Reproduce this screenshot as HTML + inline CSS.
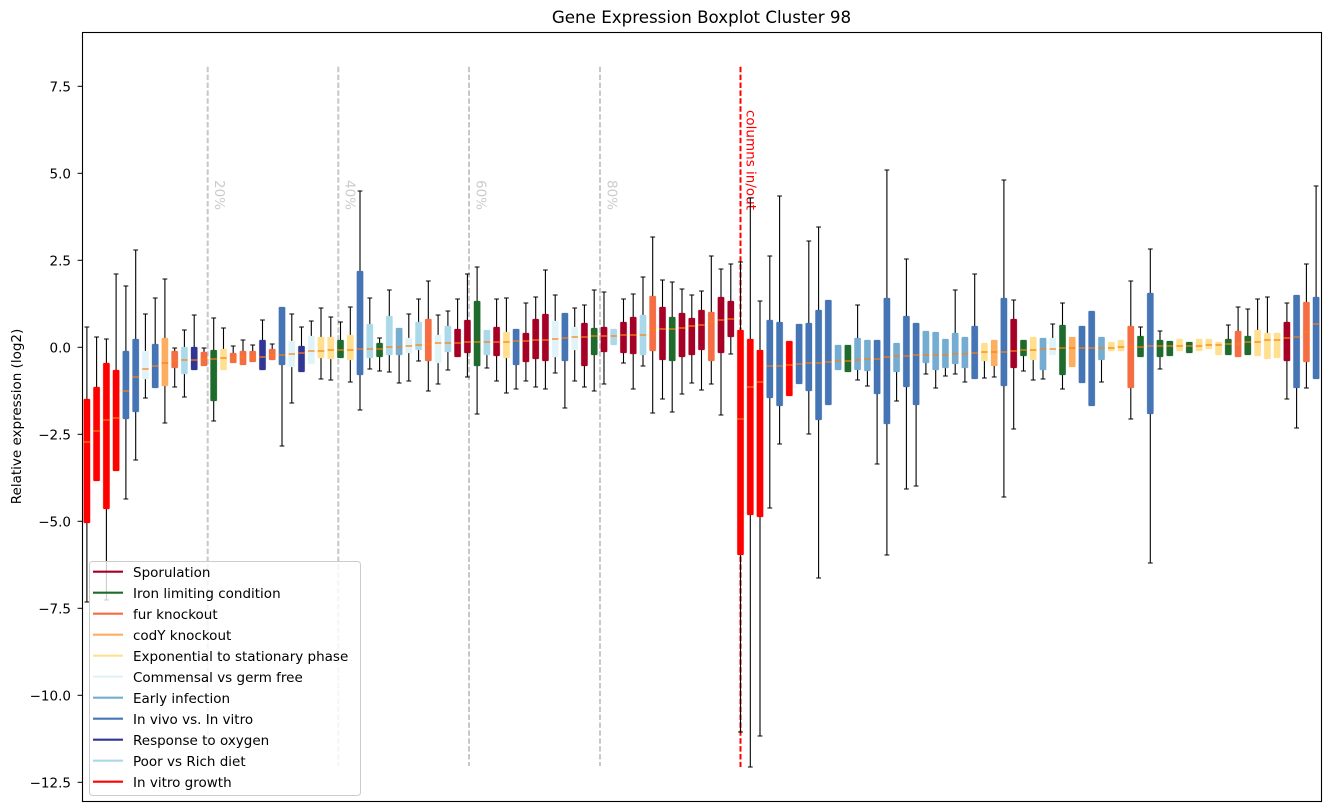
<!DOCTYPE html>
<html>
<head>
<meta charset="utf-8">
<style>
html,body{margin:0;padding:0;background:#fff;}
svg{display:block;font-family:"DejaVu Sans","Liberation Sans",sans-serif;}
.R{fill:#ff0000}.B{fill:#4575b4}.C{fill:#e0f3f8}.O{fill:#fdae61}.F{fill:#f46d43}
.P{fill:#abd9e9}.N{fill:#313695}.G{fill:#1f6b2d}.Y{fill:#fee090}.D{fill:#a50026}.E{fill:#74add1}
rect.bx{stroke-width:0.8;stroke-opacity:0.35}
</style>
</head>
<body>
<svg width="1331" height="812" viewBox="0 0 1331 812" xmlns="http://www.w3.org/2000/svg">
<rect x="0" y="0" width="1331" height="812" fill="#fff"/>

<!-- title -->
<text x="701.5" y="23" font-size="16.7" text-anchor="middle" fill="#000">Gene Expression Boxplot Cluster 98</text>

<!-- y label -->
<text transform="translate(21,416.5) rotate(-90)" font-size="13.5" text-anchor="middle" fill="#000">Relative expression (log2)</text>

<!-- y ticks -->
<g stroke="#000" stroke-width="1">
<line x1="77.6" x2="82.5" y1="86.3" y2="86.3"/>
<line x1="77.6" x2="82.5" y1="173.3" y2="173.3"/>
<line x1="77.6" x2="82.5" y1="260.3" y2="260.3"/>
<line x1="77.6" x2="82.5" y1="347.3" y2="347.3"/>
<line x1="77.6" x2="82.5" y1="434.3" y2="434.3"/>
<line x1="77.6" x2="82.5" y1="521.3" y2="521.3"/>
<line x1="77.6" x2="82.5" y1="608.3" y2="608.3"/>
<line x1="77.6" x2="82.5" y1="695.3" y2="695.3"/>
<line x1="77.6" x2="82.5" y1="782.3" y2="782.3"/>
</g>
<g font-size="13.5" text-anchor="end" fill="#000">
<text x="71" y="91.3">7.5</text>
<text x="71" y="178.3">5.0</text>
<text x="71" y="265.3">2.5</text>
<text x="71" y="352.3">0.0</text>
<text x="71" y="439.3">−2.5</text>
<text x="71" y="526.3">−5.0</text>
<text x="71" y="613.3">−7.5</text>
<text x="71" y="700.3">−10.0</text>
<text x="71" y="787.3">−12.5</text>
</g>

<!-- percentage lines -->
<g stroke="#c8c8c8" stroke-width="2" stroke-dasharray="5.5 2.4" fill="none">
<line x1="207.7" x2="207.7" y1="66.7" y2="766"/>
<line x1="338.3" x2="338.3" y1="66.7" y2="766"/>
<line x1="469" x2="469" y1="66.7" y2="766"/>
<line x1="600" x2="600" y1="66.7" y2="766"/>
</g>
<line x1="740.5" x2="740.5" y1="66.7" y2="767" stroke="#ff0000" stroke-width="2" stroke-dasharray="5.5 2.4"/>
<g font-size="13.5" fill="#cccccc">
<text transform="translate(215,180) rotate(90)">20%</text>
<text transform="translate(345.6,180) rotate(90)">40%</text>
<text transform="translate(476.3,180) rotate(90)">60%</text>
<text transform="translate(607.3,180) rotate(90)">80%</text>
</g>
<text transform="translate(746.5,110) rotate(90)" font-size="13.5" fill="#ff0000">columns in/out</text>

<!-- whiskers & caps -->
<path fill="none" stroke="#000" stroke-width="1.1" d="
M86.9 399V327M84.5 327H89.3M86.9 523V602M84.5 602H89.3
M96.6 387V337M94.2 337H99
M106.4 363V339M104 339H108.8M106.4 509V600M104 600H108.8
M116.1 370V274M113.7 274H118.5
M125.9 351V286M123.5 286H128.3M125.9 419V499M123.5 499H128.3
M135.7 339V250M133.3 250H138.1M135.7 412V460M133.3 460H138.1
M145.4 351V314M143 314H147.8M145.4 379V398M143 398H147.8
M155.2 344V298M152.8 298H157.6
M164.9 338V279M162.5 279H167.3M164.9 386V423M162.5 423H167.3
M174.7 351V348M172.3 348H177.1M174.7 368V387M172.3 387H177.1
M184.4 347V330M182 330H186.8M184.4 374V397M182 397H186.8
M194.2 347V315M191.8 315H196.6
M204 352V348M201.6 348H206.4
M213.7 350V318M211.3 318H216.1M213.7 401V421M211.3 421H216.1
M223.5 349V328M221.1 328H225.9
M233.2 353V346M230.8 346H235.6
M243 351V340M240.6 340H245.4
M252.7 351V345M250.3 345H255.1
M262.5 340V320M260.1 320H264.9
M272.2 349V344M269.8 344H274.6
M282 365V446M279.6 446H284.4
M291.8 341V314M289.4 314H294.2M291.8 367V403M289.4 403H294.2
M301.5 346V327M299.1 327H303.9
M311.3 336V321M308.9 321H313.7
M321 337V308M318.6 308H323.4M321 358V379M318.6 379H323.4
M330.8 337V317M328.4 317H333.2M330.8 359V380M328.4 380H333.2
M340.5 340V322M338.1 322H342.9
M350.3 335V307M347.9 307H352.7M350.3 360V382M347.9 382H352.7
M360 271V191M357.6 191H362.4M360 375V410M357.6 410H362.4
M369.8 324V298M367.4 298H372.2M369.8 358V369M367.4 369H372.2
M379.6 343V338M377.2 338H382M379.6 357V371M377.2 371H382
M389.3 316V290M386.9 290H391.7M389.3 355V372M386.9 372H391.7
M399.1 355V383M396.7 383H401.5
M408.8 338V314M406.4 314H411.2M408.8 353V381M406.4 381H411.2
M418.6 322V299M416.2 299H421M418.6 350V361M416.2 361H421
M428.3 319V281M425.9 281H430.7M428.3 361V391M425.9 391H430.7
M438.1 335V315M435.7 315H440.5M438.1 363V384M435.7 384H440.5
M447.9 326V311M445.5 311H450.3M447.9 352V370M445.5 370H450.3
M457.6 329V299M455.2 299H460
M467.4 320V274M465 274H469.8M467.4 353V377M465 377H469.8
M477.1 301V267M474.7 267H479.5M477.1 366V414M474.7 414H479.5
M486.9 355V368M484.5 368H489.3
M496.6 327V299M494.2 299H499M496.6 356V381M494.2 381H499
M506.4 332V298M504 298H508.8M506.4 358V393M504 393H508.8
M516.1 365V389M513.7 389H518.5
M525.9 333V303M523.5 303H528.3M525.9 362V381M523.5 381H528.3
M535.7 319V297M533.3 297H538.1M535.7 359V387M533.3 387H538.1
M545.4 314V270M543 270H547.8M545.4 361V389M543 389H547.8
M555.2 321V295M552.8 295H557.6M555.2 357V373M552.8 373H557.6
M564.9 361V408M562.5 408H567.3
M574.7 327V308M572.3 308H577.1M574.7 350V381M572.3 381H577.1
M584.4 323V305M582 305H586.8M584.4 366V387M582 387H586.8
M594.2 328V290M591.8 290H596.6M594.2 355V391M591.8 391H596.6
M604 327V292M601.6 292H606.4M604 352V384M601.6 384H606.4
M623.5 322V299M621.1 299H625.9M623.5 353V363M621.1 363H625.9
M633.2 317V294M630.8 294H635.6M633.2 354V389M630.8 389H635.6
M643 315V277M640.6 277H645.4M643 355V366M640.6 366H645.4
M652.7 296V237M650.3 237H655.1M652.7 351V413M650.3 413H655.1
M662.5 307V280M660.1 280H664.9M662.5 360V399M660.1 399H664.9
M672.2 317V282M669.8 282H674.6M672.2 361V412M669.8 412H674.6
M682 313V289M679.6 289H684.4M682 357V394M679.6 394H684.4
M691.8 318V295M689.4 295H694.2M691.8 355V383M689.4 383H694.2
M701.5 310V291M699.1 291H703.9M701.5 350V390M699.1 390H703.9
M711.3 312V256M708.9 256H713.7M711.3 361V384M708.9 384H713.7
M721 297V269M718.6 269H723.4M721 353V415M718.6 415H723.4
M730.8 301V264M728.4 264H733.2M730.8 337V354M728.4 354H733.2
M740.5 330V262M738.1 262H742.9M740.5 555V732M738.1 732H742.9
M750.3 339V198M747.9 198H752.7M750.3 515V767M747.9 767H752.7
M760 350V301M757.6 301H762.4M760 517V736M757.6 736H762.4
M769.8 320V256M767.4 256H772.2M769.8 398V508M767.4 508H772.2
M779.6 322V196M777.2 196H782M779.6 406V444M777.2 444H782
M808.8 323V241M806.4 241H811.2M808.8 391V434M806.4 434H811.2
M818.6 310V227M816.2 227H821M818.6 420V578M816.2 578H821
M857.6 338V305M855.2 305H860M857.6 370V380M855.2 380H860
M867.4 371V386M865 386H869.8
M877.1 394V464M874.7 464H879.5
M886.9 298V170M884.5 170H889.3M886.9 424V555M884.5 555H889.3
M896.6 372V401M894.2 401H899
M906.4 316V259M904 259H908.8M906.4 387V489M904 489H908.8
M916.1 405V486M913.7 486H918.5
M925.9 363V374M923.5 374H928.3
M935.7 370V388M933.3 388H938.1
M945.4 368V376M943 376H947.8
M955.2 333V290M952.8 290H957.6M955.2 364V374M952.8 374H957.6
M964.9 368V382M962.5 382H967.3
M974.7 326V274M972.3 274H977.1
M984.4 361V378M982 378H986.8
M994.2 366V377M991.8 377H996.6
M1003.9 298V180M1001.5 180H1006.3M1003.9 386V497M1001.5 497H1006.3
M1013.7 319V300M1011.3 300H1016.1M1013.7 368V429M1011.3 429H1016.1
M1023.5 356V371M1021.1 371H1025.9
M1033.2 360V380M1030.8 380H1035.6
M1043 370V379M1040.6 379H1045.4
M1052.7 338V324M1050.3 324H1055.1
M1062.5 325V303M1060.1 303H1064.9M1062.5 375V389M1060.1 389H1064.9
M1101.5 360V382M1099.1 382H1103.9
M1130.8 326V281M1128.4 281H1133.2M1130.8 388V419M1128.4 419H1133.2
M1140.5 336V327M1138.1 327H1142.9
M1150.3 293V249M1147.9 249H1152.7M1150.3 414V563M1147.9 563H1152.7
M1160 340V331M1157.6 331H1162.4M1160 357V369M1157.6 369H1162.4
M1228.3 339V325M1225.9 325H1230.7
M1238.1 331V307M1235.7 307H1240.5
M1247.8 336V309M1245.4 309H1250.2
M1257.6 330V299M1255.2 299H1260
M1267.4 333V297M1265 297H1269.8
M1286.9 322V303M1284.5 303H1289.3M1286.9 361V399M1284.5 399H1289.3
M1296.6 388V428M1294.2 428H1299
M1306.4 302V264M1304 264H1308.8M1306.4 362V388M1304 388H1308.8
M1316.1 297V186M1313.7 186H1318.5"/>

<!-- boxes -->
<g>
<rect class="bx R" stroke="#ff0000" x="83.7" y="399" width="6.4" height="124" rx="1"/>
<rect class="bx R" stroke="#ff0000" x="93.4" y="387" width="6.4" height="94" rx="1"/>
<rect class="bx R" stroke="#ff0000" x="103.2" y="363" width="6.4" height="146" rx="1"/>
<rect class="bx R" stroke="#ff0000" x="112.9" y="370" width="6.4" height="101" rx="1"/>
<rect class="bx B" stroke="#4575b4" x="122.7" y="351" width="6.4" height="68" rx="1"/>
<rect class="bx B" stroke="#4575b4" x="132.5" y="339" width="6.4" height="73" rx="1"/>
<rect class="bx C" stroke="#e0f3f8" x="142.2" y="351" width="6.4" height="28" rx="1"/>
<rect class="bx B" stroke="#4575b4" x="152" y="344" width="6.4" height="44" rx="1"/>
<rect class="bx O" stroke="#fdae61" x="161.7" y="338" width="6.4" height="48" rx="1"/>
<rect class="bx F" stroke="#f46d43" x="171.5" y="351" width="6.4" height="17" rx="1"/>
<rect class="bx P" stroke="#abd9e9" x="181.2" y="347" width="6.4" height="27" rx="1"/>
<rect class="bx N" stroke="#313695" x="191" y="347" width="6.4" height="23" rx="1"/>
<rect class="bx F" stroke="#f46d43" x="200.8" y="352" width="6.4" height="14" rx="1"/>
<rect class="bx G" stroke="#1f6b2d" x="210.5" y="350" width="6.4" height="51" rx="1"/>
<rect class="bx Y" stroke="#fee090" x="220.3" y="349" width="6.4" height="21" rx="1"/>
<rect class="bx F" stroke="#f46d43" x="230" y="353" width="6.4" height="10" rx="1"/>
<rect class="bx F" stroke="#f46d43" x="239.8" y="351" width="6.4" height="14" rx="1"/>
<rect class="bx F" stroke="#f46d43" x="249.5" y="351" width="6.4" height="11" rx="1"/>
<rect class="bx N" stroke="#313695" x="259.3" y="340" width="6.4" height="30" rx="1"/>
<rect class="bx F" stroke="#f46d43" x="269" y="349" width="6.4" height="11" rx="1"/>
<rect class="bx B" stroke="#4575b4" x="278.8" y="307" width="6.4" height="58" rx="1"/>
<rect class="bx C" stroke="#e0f3f8" x="288.6" y="341" width="6.4" height="26" rx="1"/>
<rect class="bx N" stroke="#313695" x="298.3" y="346" width="6.4" height="26" rx="1"/>
<rect class="bx C" stroke="#e0f3f8" x="308.1" y="336" width="6.4" height="28" rx="1"/>
<rect class="bx Y" stroke="#fee090" x="317.8" y="337" width="6.4" height="21" rx="1"/>
<rect class="bx Y" stroke="#fee090" x="327.6" y="337" width="6.4" height="22" rx="1"/>
<rect class="bx G" stroke="#1f6b2d" x="337.3" y="340" width="6.4" height="18" rx="1"/>
<rect class="bx Y" stroke="#fee090" x="347.1" y="335" width="6.4" height="25" rx="1"/>
<rect class="bx B" stroke="#4575b4" x="356.8" y="271" width="6.4" height="104" rx="1"/>
<rect class="bx P" stroke="#abd9e9" x="366.6" y="324" width="6.4" height="34" rx="1"/>
<rect class="bx G" stroke="#1f6b2d" x="376.4" y="343" width="6.4" height="14" rx="1"/>
<rect class="bx P" stroke="#abd9e9" x="386.1" y="316" width="6.4" height="39" rx="1"/>
<rect class="bx E" stroke="#74add1" x="395.9" y="328" width="6.4" height="27" rx="1"/>
<rect class="bx C" stroke="#e0f3f8" x="405.6" y="338" width="6.4" height="15" rx="1"/>
<rect class="bx P" stroke="#abd9e9" x="415.4" y="322" width="6.4" height="28" rx="1"/>
<rect class="bx F" stroke="#f46d43" x="425.1" y="319" width="6.4" height="42" rx="1"/>
<rect class="bx C" stroke="#e0f3f8" x="434.9" y="335" width="6.4" height="28" rx="1"/>
<rect class="bx P" stroke="#abd9e9" x="444.7" y="326" width="6.4" height="26" rx="1"/>
<rect class="bx D" stroke="#a50026" x="454.4" y="329" width="6.4" height="28" rx="1"/>
<rect class="bx D" stroke="#a50026" x="464.2" y="320" width="6.4" height="33" rx="1"/>
<rect class="bx G" stroke="#1f6b2d" x="473.9" y="301" width="6.4" height="65" rx="1"/>
<rect class="bx P" stroke="#abd9e9" x="483.7" y="330" width="6.4" height="25" rx="1"/>
<rect class="bx D" stroke="#a50026" x="493.4" y="327" width="6.4" height="29" rx="1"/>
<rect class="bx Y" stroke="#fee090" x="503.2" y="332" width="6.4" height="26" rx="1"/>
<rect class="bx B" stroke="#4575b4" x="512.9" y="329" width="6.4" height="36" rx="1"/>
<rect class="bx D" stroke="#a50026" x="522.7" y="333" width="6.4" height="29" rx="1"/>
<rect class="bx D" stroke="#a50026" x="532.5" y="319" width="6.4" height="40" rx="1"/>
<rect class="bx D" stroke="#a50026" x="542.2" y="314" width="6.4" height="47" rx="1"/>
<rect class="bx C" stroke="#e0f3f8" x="552" y="321" width="6.4" height="36" rx="1"/>
<rect class="bx B" stroke="#4575b4" x="561.7" y="313" width="6.4" height="48" rx="1"/>
<rect class="bx C" stroke="#e0f3f8" x="571.5" y="327" width="6.4" height="23" rx="1"/>
<rect class="bx D" stroke="#a50026" x="581.2" y="323" width="6.4" height="43" rx="1"/>
<rect class="bx G" stroke="#1f6b2d" x="591" y="328" width="6.4" height="27" rx="1"/>
<rect class="bx D" stroke="#a50026" x="600.8" y="327" width="6.4" height="25" rx="1"/>
<rect class="bx P" stroke="#abd9e9" x="610.5" y="329" width="6.4" height="16" rx="1"/>
<rect class="bx D" stroke="#a50026" x="620.3" y="322" width="6.4" height="31" rx="1"/>
<rect class="bx D" stroke="#a50026" x="630" y="317" width="6.4" height="37" rx="1"/>
<rect class="bx P" stroke="#abd9e9" x="639.8" y="315" width="6.4" height="40" rx="1"/>
<rect class="bx F" stroke="#f46d43" x="649.5" y="296" width="6.4" height="55" rx="1"/>
<rect class="bx D" stroke="#a50026" x="659.3" y="307" width="6.4" height="53" rx="1"/>
<rect class="bx G" stroke="#1f6b2d" x="669" y="317" width="6.4" height="44" rx="1"/>
<rect class="bx D" stroke="#a50026" x="678.8" y="313" width="6.4" height="44" rx="1"/>
<rect class="bx D" stroke="#a50026" x="688.6" y="318" width="6.4" height="37" rx="1"/>
<rect class="bx D" stroke="#a50026" x="698.3" y="310" width="6.4" height="40" rx="1"/>
<rect class="bx F" stroke="#f46d43" x="708.1" y="312" width="6.4" height="49" rx="1"/>
<rect class="bx D" stroke="#a50026" x="717.8" y="297" width="6.4" height="56" rx="1"/>
<rect class="bx D" stroke="#a50026" x="727.6" y="301" width="6.4" height="36" rx="1"/>
<rect class="bx R" stroke="#ff0000" x="737.3" y="330" width="6.4" height="225" rx="1"/>
<rect class="bx R" stroke="#ff0000" x="747.1" y="339" width="6.4" height="176" rx="1"/>
<rect class="bx R" stroke="#ff0000" x="756.8" y="350" width="6.4" height="167" rx="1"/>
<rect class="bx B" stroke="#4575b4" x="766.6" y="320" width="6.4" height="78" rx="1"/>
<rect class="bx B" stroke="#4575b4" x="776.4" y="322" width="6.4" height="84" rx="1"/>
<rect class="bx R" stroke="#ff0000" x="786.1" y="341" width="6.4" height="55" rx="1"/>
<rect class="bx B" stroke="#4575b4" x="795.9" y="324" width="6.4" height="60" rx="1"/>
<rect class="bx B" stroke="#4575b4" x="805.6" y="323" width="6.4" height="68" rx="1"/>
<rect class="bx B" stroke="#4575b4" x="815.4" y="310" width="6.4" height="110" rx="1"/>
<rect class="bx B" stroke="#4575b4" x="825.1" y="300" width="6.4" height="105" rx="1"/>
<rect class="bx E" stroke="#74add1" x="834.9" y="345" width="6.4" height="25" rx="1"/>
<rect class="bx G" stroke="#1f6b2d" x="844.7" y="345" width="6.4" height="27" rx="1"/>
<rect class="bx E" stroke="#74add1" x="854.4" y="338" width="6.4" height="32" rx="1"/>
<rect class="bx E" stroke="#74add1" x="864.2" y="340" width="6.4" height="31" rx="1"/>
<rect class="bx B" stroke="#4575b4" x="873.9" y="340" width="6.4" height="54" rx="1"/>
<rect class="bx B" stroke="#4575b4" x="883.7" y="298" width="6.4" height="126" rx="1"/>
<rect class="bx E" stroke="#74add1" x="893.4" y="343" width="6.4" height="29" rx="1"/>
<rect class="bx B" stroke="#4575b4" x="903.2" y="316" width="6.4" height="71" rx="1"/>
<rect class="bx B" stroke="#4575b4" x="912.9" y="323" width="6.4" height="82" rx="1"/>
<rect class="bx E" stroke="#74add1" x="922.7" y="331" width="6.4" height="32" rx="1"/>
<rect class="bx E" stroke="#74add1" x="932.5" y="332" width="6.4" height="38" rx="1"/>
<rect class="bx E" stroke="#74add1" x="942.2" y="339" width="6.4" height="29" rx="1"/>
<rect class="bx E" stroke="#74add1" x="952" y="333" width="6.4" height="31" rx="1"/>
<rect class="bx E" stroke="#74add1" x="961.7" y="337" width="6.4" height="31" rx="1"/>
<rect class="bx B" stroke="#4575b4" x="971.5" y="326" width="6.4" height="53" rx="1"/>
<rect class="bx Y" stroke="#fee090" x="981.2" y="343" width="6.4" height="18" rx="1"/>
<rect class="bx O" stroke="#fdae61" x="991" y="340" width="6.4" height="26" rx="1"/>
<rect class="bx B" stroke="#4575b4" x="1000.7" y="298" width="6.4" height="88" rx="1"/>
<rect class="bx D" stroke="#a50026" x="1010.5" y="319" width="6.4" height="49" rx="1"/>
<rect class="bx G" stroke="#1f6b2d" x="1020.3" y="340" width="6.4" height="16" rx="1"/>
<rect class="bx Y" stroke="#fee090" x="1030" y="337" width="6.4" height="23" rx="1"/>
<rect class="bx E" stroke="#74add1" x="1039.8" y="338" width="6.4" height="32" rx="1"/>
<rect class="bx C" stroke="#e0f3f8" x="1049.5" y="338" width="6.4" height="17" rx="1"/>
<rect class="bx G" stroke="#1f6b2d" x="1059.3" y="325" width="6.4" height="50" rx="1"/>
<rect class="bx O" stroke="#fdae61" x="1069" y="337" width="6.4" height="30" rx="1"/>
<rect class="bx B" stroke="#4575b4" x="1078.8" y="326" width="6.4" height="57" rx="1"/>
<rect class="bx B" stroke="#4575b4" x="1088.5" y="311" width="6.4" height="95" rx="1"/>
<rect class="bx E" stroke="#74add1" x="1098.3" y="337" width="6.4" height="23" rx="1"/>
<rect class="bx Y" stroke="#fee090" x="1108.1" y="342" width="6.4" height="9" rx="1"/>
<rect class="bx Y" stroke="#fee090" x="1117.8" y="340" width="6.4" height="11" rx="1"/>
<rect class="bx F" stroke="#f46d43" x="1127.6" y="326" width="6.4" height="62" rx="1"/>
<rect class="bx G" stroke="#1f6b2d" x="1137.3" y="336" width="6.4" height="21" rx="1"/>
<rect class="bx B" stroke="#4575b4" x="1147.1" y="293" width="6.4" height="121" rx="1"/>
<rect class="bx G" stroke="#1f6b2d" x="1156.8" y="340" width="6.4" height="17" rx="1"/>
<rect class="bx G" stroke="#1f6b2d" x="1166.6" y="341" width="6.4" height="15" rx="1"/>
<rect class="bx Y" stroke="#fee090" x="1176.4" y="339" width="6.4" height="12" rx="1"/>
<rect class="bx G" stroke="#1f6b2d" x="1186.1" y="342" width="6.4" height="11" rx="1"/>
<rect class="bx Y" stroke="#fee090" x="1195.9" y="339" width="6.4" height="12" rx="1"/>
<rect class="bx Y" stroke="#fee090" x="1205.6" y="339" width="6.4" height="10" rx="1"/>
<rect class="bx Y" stroke="#fee090" x="1215.4" y="342" width="6.4" height="13" rx="1"/>
<rect class="bx G" stroke="#1f6b2d" x="1225.1" y="339" width="6.4" height="16" rx="1"/>
<rect class="bx F" stroke="#f46d43" x="1234.9" y="331" width="6.4" height="26" rx="1"/>
<rect class="bx G" stroke="#1f6b2d" x="1244.6" y="336" width="6.4" height="19" rx="1"/>
<rect class="bx Y" stroke="#fee090" x="1254.4" y="330" width="6.4" height="26" rx="1"/>
<rect class="bx Y" stroke="#fee090" x="1264.2" y="333" width="6.4" height="26" rx="1"/>
<rect class="bx Y" stroke="#fee090" x="1273.9" y="333" width="6.4" height="25" rx="1"/>
<rect class="bx D" stroke="#a50026" x="1283.7" y="322" width="6.4" height="39" rx="1"/>
<rect class="bx B" stroke="#4575b4" x="1293.4" y="295" width="6.4" height="93" rx="1"/>
<rect class="bx F" stroke="#f46d43" x="1303.2" y="302" width="6.4" height="60" rx="1"/>
<rect class="bx B" stroke="#4575b4" x="1312.9" y="297" width="6.4" height="82" rx="1"/>
</g>

<!-- medians -->
<path fill="none" stroke="#ff7f0e" stroke-width="1.3" d="
M83.7 442h6.4M93.4 431h6.4M103.2 420h6.4M112.9 418h6.4M122.7 391h6.4M132.5 377h6.4M142.2 369h6.4M152 366h6.4M161.7 363h6.4M171.5 361h6.4
M181.2 360h6.4M191 360h6.4M200.8 359h6.4M210.5 359h6.4M220.3 358h6.4M230 358h6.4M239.8 357h6.4M249.5 357h6.4M259.3 357h6.4M269 355h6.4
M278.8 355h6.4M288.6 354h6.4M298.3 353h6.4M308.1 351h6.4M317.8 351h6.4M327.6 350h6.4M337.3 350h6.4M347.1 350h6.4M356.8 349h6.4M366.6 349h6.4
M376.4 349h6.4M386.1 347h6.4M395.9 347h6.4M405.6 346h6.4M415.4 345h6.4M425.1 344h6.4M434.9 343h6.4M444.7 343h6.4M454.4 343h6.4M464.2 342h6.4
M473.9 342h6.4M483.7 342h6.4M493.4 342h6.4M503.2 342h6.4M512.9 341h6.4M522.7 341h6.4M532.5 340h6.4M542.2 340h6.4M552 339h6.4M561.7 338h6.4
M571.5 337h6.4M581.2 337h6.4M591 336h6.4M600.8 336h6.4M610.5 336h6.4M620.3 335h6.4M630 335h6.4M639.8 335h6.4M649.5 330h6.4M659.3 329h6.4
M669 329h6.4M678.8 328h6.4M688.6 326h6.4M698.3 325h6.4M708.1 322h6.4M717.8 320h6.4M727.6 319h6.4M737.3 419h6.4M747.1 387h6.4M756.8 382h6.4
M766.6 366h6.4M776.4 366h6.4M786.1 365h6.4M795.9 364h6.4M805.6 363h6.4M815.4 363h6.4M825.1 362h6.4M834.9 361h6.4M844.7 361h6.4M854.4 360h6.4
M864.2 359h6.4M873.9 359h6.4M883.7 357h6.4M893.4 356h6.4M903.2 356h6.4M912.9 355h6.4M922.7 355h6.4M932.5 355h6.4M942.2 355h6.4M952 354h6.4
M961.7 354h6.4M971.5 353h6.4M981.2 352h6.4M991 352h6.4M1000.7 352h6.4M1010.5 351h6.4M1020.3 350h6.4M1030 350h6.4M1039.8 349h6.4M1049.5 349h6.4
M1059.3 348h6.4M1069 348h6.4M1078.8 348h6.4M1088.5 348h6.4M1098.3 348h6.4M1108.1 348h6.4M1117.8 347h6.4M1127.6 347h6.4M1137.3 347h6.4M1147.1 346h6.4
M1156.8 346h6.4M1166.6 346h6.4M1176.4 346h6.4M1186.1 346h6.4M1195.9 346h6.4M1205.6 345h6.4M1215.4 345h6.4M1225.1 344h6.4M1234.9 344h6.4M1244.6 342h6.4
M1254.4 342h6.4M1264.2 340h6.4M1273.9 340h6.4M1283.7 338h6.4M1293.4 337h6.4M1303.2 332h6.4M1312.9 324h6.4"/>

<!-- legend -->
<rect x="89.5" y="561.5" width="271" height="234" rx="3" fill="#fff" fill-opacity="0.8" stroke="#cccccc" stroke-width="1"/>
<g stroke-width="2.2">
<line x1="93" x2="123" y1="571.7" y2="571.7" stroke="#a50026"/>
<line x1="93" x2="123" y1="592.7" y2="592.7" stroke="#1f6b2d"/>
<line x1="93" x2="123" y1="613.7" y2="613.7" stroke="#f46d43"/>
<line x1="93" x2="123" y1="634.7" y2="634.7" stroke="#fdae61"/>
<line x1="93" x2="123" y1="655.7" y2="655.7" stroke="#fee090"/>
<line x1="93" x2="123" y1="676.7" y2="676.7" stroke="#e0f3f8"/>
<line x1="93" x2="123" y1="697.7" y2="697.7" stroke="#74add1"/>
<line x1="93" x2="123" y1="718.7" y2="718.7" stroke="#4575b4"/>
<line x1="93" x2="123" y1="739.7" y2="739.7" stroke="#313695"/>
<line x1="93" x2="123" y1="760.7" y2="760.7" stroke="#abd9e9"/>
<line x1="93" x2="123" y1="781.7" y2="781.7" stroke="#ff0000"/>
</g>
<g font-size="13.5" fill="#000">
<text x="133" y="576.8">Sporulation</text>
<text x="133" y="597.8">Iron limiting condition</text>
<text x="133" y="618.8">fur knockout</text>
<text x="133" y="639.8">codY knockout</text>
<text x="133" y="660.8">Exponential to stationary phase</text>
<text x="133" y="681.8">Commensal vs germ free</text>
<text x="133" y="702.8">Early infection</text>
<text x="133" y="723.8">In vivo vs. In vitro</text>
<text x="133" y="744.8">Response to oxygen</text>
<text x="133" y="765.8">Poor vs Rich diet</text>
<text x="133" y="786.8">In vitro growth</text>
</g>

<!-- frame -->
<rect x="82.5" y="32.5" width="1239" height="769" fill="none" stroke="#000" stroke-width="1.1"/>
</svg>
</body>
</html>
